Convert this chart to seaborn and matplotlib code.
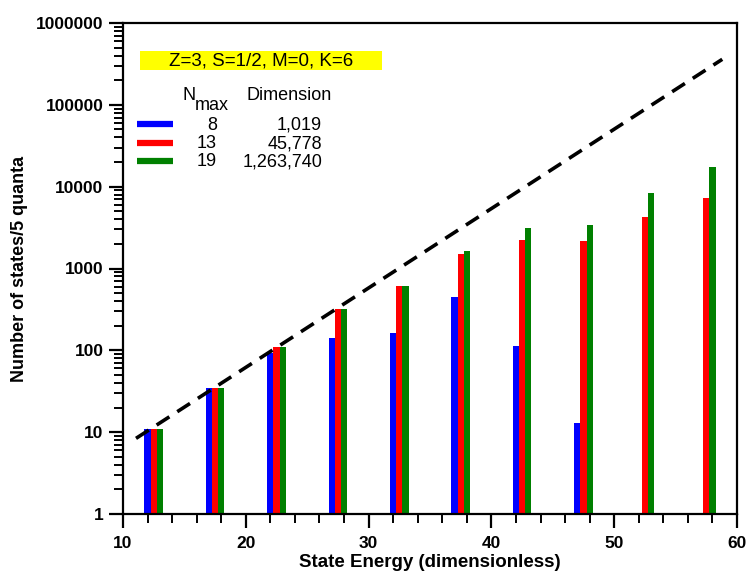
import numpy as np
import pandas as pd
import matplotlib
matplotlib.use("Agg")
import matplotlib.pyplot as plt
from matplotlib.patches import Rectangle
from matplotlib.ticker import FixedLocator, NullFormatter
import seaborn as sns

# state energy bins (center of each 5-quanta group)
energy = [12.5, 17.5, 22.5, 27.5, 32.5, 37.5, 42.5, 47.5, 52.5, 57.5]
# number of states per bin for each Nmax truncation
states_n8 = [11, 35, 92, 142, 164, 454, 114, 13, np.nan, np.nan]
states_n13 = [11, 35, 110, 317, 607, 1515, 2235, 2190, 4250, 7170]
states_n19 = [11, 35, 110, 317, 607, 1625, 3100, 3380, 8300, 17600]

nmax_labels = ["8", "13", "19"]
dimensions = ["1,019", "45,778", "1,263,740"]
colors = ["#0000ff", "#ff0000", "#008000"]

# exponential guide line (dashed)
fit_x = [11.06, 58.8]
fit_y = [8.4, 3.6e5]

sns.set_style("ticks")
plt.rcParams["font.family"] = ["Liberation Sans", "DejaVu Sans"]
for key in ["text.color", "axes.labelcolor", "xtick.color", "ytick.color", "axes.edgecolor"]:
    plt.rcParams[key] = "black"

rows = []
for lab, vals in zip(nmax_labels, [states_n8, states_n13, states_n19]):
    for e, v in zip(energy, vals):
        if not np.isnan(v):
            rows.append({"energy": e, "states": v, "nmax": lab})
df = pd.DataFrame(rows)

fig = plt.figure(figsize=(7.48, 5.72), dpi=100)
ax = fig.add_axes([123 / 748, 1 - 514 / 572, 614 / 748, 491 / 572])

sns.barplot(data=df, x="energy", y="states", hue="nmax", hue_order=nmax_labels,
            palette=dict(zip(nmax_labels, colors)), native_scale=True,
            width=0.3, gap=0, errorbar=None, legend=False, linewidth=0,
            saturation=1, ax=ax)

sns.lineplot(x=fit_x, y=fit_y, color="black", lw=2.6, ax=ax)
ax.lines[-1].set_dashes((4.2, 2.6))

ax.set_yscale("log")
ax.set_xlim(10, 60)
ax.set_ylim(1, 1e6)

ax.xaxis.set_major_locator(FixedLocator([10, 20, 30, 40, 50, 60]))
ax.xaxis.set_minor_locator(FixedLocator(np.arange(12, 60, 2)))
ax.yaxis.set_major_locator(FixedLocator([10 ** k for k in range(7)]))
ax.yaxis.set_minor_locator(FixedLocator([m * 10 ** k for k in range(6) for m in range(2, 10)]))
ax.yaxis.set_minor_formatter(NullFormatter())
ax.set_yticklabels([str(10 ** k) for k in range(7)])
ax.set_xticklabels(["10", "20", "30", "40", "50", "60"])

ax.tick_params(which="major", direction="out", length=10, width=1.6, labelsize=12.5, pad=4)
ax.tick_params(axis="x", which="major", pad=6)
ax.tick_params(which="minor", direction="out", length=6.5, width=1.4)
for lab in ax.get_xticklabels() + ax.get_yticklabels():
    lab.set_fontweight("bold")
for sp in ax.spines.values():
    sp.set_visible(True)
    sp.set_linewidth(1.6)

ax.set_xlabel("State Energy (dimensionless)", fontsize=13.5, fontweight="bold", labelpad=2)
ax.set_ylabel("Number of states/5 quanta", fontsize=13, fontweight="bold", labelpad=6)

# header box and legend drawn in axes coordinates
def fx(px):
    return (px - 123) / 614

def fy(py):
    return (514 - py) / 491

ax.add_patch(Rectangle((fx(140), fy(70)), fx(382) - fx(140), fy(51) - fy(70),
                       transform=ax.transAxes, facecolor="#ffff00", edgecolor="none"))
ax.text(fx(261), fy(61), "Z=3, S=1/2, M=0, K=6", transform=ax.transAxes,
        ha="center", va="center", fontsize=13.5)

ax.text(fx(182), fy(95), "N", transform=ax.transAxes, ha="left", va="center", fontsize=13)
ax.text(fx(195), fy(106), "max", transform=ax.transAxes, ha="left", va="center", fontsize=13)
ax.text(fx(247), fy(95), "Dimension", transform=ax.transAxes, ha="left", va="center", fontsize=13)

row_y = [125, 144, 162]
for lab, dim, col, py in zip(nmax_labels, dimensions, colors, row_y):
    ax.plot([fx(137), fx(173)], [fy(py - 1), fy(py - 1)], transform=ax.transAxes,
            color=col, lw=4.5, solid_capstyle="butt")
    ax.text(fx(217), fy(py), lab, transform=ax.transAxes, ha="right", va="center", fontsize=13)
    ax.text(fx(322), fy(py), dim, transform=ax.transAxes, ha="right", va="center", fontsize=13)

fig.savefig("out.png", dpi=100)
